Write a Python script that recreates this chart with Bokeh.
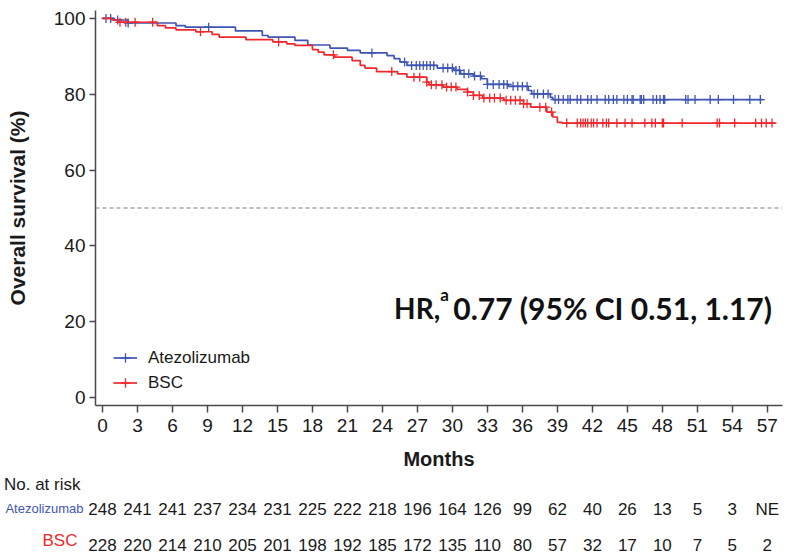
import numpy as np
from bokeh.plotting import figure
from bokeh.layouts import column
from bokeh.models import (FixedTicker, Span, Label, Legend, LegendItem, Range1d)
from bokeh.embed import file_html
from bokeh.resources import INLINE

# Kaplan-Meier step points: month at which each survival level (%) begins
atezo_time = [0, 1.0, 2.2, 6.3, 7.1, 11.4, 13.7, 14.2, 16.5, 17.6, 19.5, 21.0, 22.1,
              24.4, 25.0, 25.5, 26.1, 28.7, 30.1, 30.7, 31.8, 32.5, 33.0, 34.8, 36.5,
              36.8, 38.4, 38.6]
atezo_surv = [100, 99.6, 98.8, 98.1, 97.7, 96.7, 95.5, 95.1, 94.2, 93.0, 92.2, 91.6, 90.9,
              90.2, 89.4, 88.5, 87.6, 86.9, 86.3, 85.4, 84.8, 84.1, 82.6, 82.1, 81.0,
              80.1, 79.2, 78.6]
atezo_last = 56.6
atezo_censor = [0.3, 0.7, 1.3, 2.2, 9.1, 23.1, 25.9, 26.5, 26.9, 27.2, 27.5, 27.8, 28.1,
                28.4, 29.2, 29.6, 30.0, 30.3, 30.6, 31.0, 31.4, 31.9, 32.4, 33.0, 33.5,
                34.0, 34.4, 34.7, 35.2, 35.6, 36.0, 36.4, 37.0, 37.3, 37.8, 38.2, 38.8,
                39.1, 39.5, 39.9, 40.1, 40.7, 41.0, 41.6, 41.9, 42.4, 43.1, 43.4, 43.8,
                44.1, 44.7, 45.0, 45.4, 45.5, 46.1, 46.2, 46.4, 47.2, 47.5, 47.8, 48.1,
                48.2, 50.0, 50.2, 50.8, 52.1, 52.8, 54.1, 55.5, 56.4]

bsc_time = [0, 0.8, 1.4, 4.7, 5.4, 6.3, 8.0, 9.4, 10.0, 12.3, 14.6, 15.8, 16.5, 18.0,
            18.5, 19.0, 19.9, 21.4, 22.1, 22.5, 23.5, 25.3, 26.1, 27.8, 28.0, 29.2,
            30.4, 31.3, 31.8, 32.6, 34.4, 36.1, 36.7, 38.1, 38.6, 39.0, 39.4]
bsc_surv = [100, 99.6, 99.0, 98.1, 97.5, 97.0, 96.5, 95.8, 95.1, 94.4, 93.8, 93.3, 92.9,
            91.8, 91.1, 90.4, 89.8, 88.9, 87.6, 86.9, 86.0, 85.4, 84.5, 83.2, 82.5, 81.9,
            81.3, 80.6, 79.7, 79.0, 78.4, 77.5, 76.6, 75.3, 74.0, 72.6, 72.4]
bsc_last = 57.7
bsc_censor = [1.5, 2.0, 2.8, 4.3, 8.4, 15.1, 19.8, 24.8, 26.7, 27.2, 27.8, 28.2, 28.6,
              29.1, 29.5, 29.9, 30.3, 31.3, 31.8, 32.3, 32.7, 33.2, 33.6, 34.1, 34.6,
              35.0, 35.4, 35.8, 36.1, 36.4, 37.5, 38.0, 38.5, 39.8, 40.7, 41.0, 41.2,
              41.4, 41.6, 41.9, 42.1, 42.4, 42.9, 43.2, 43.4, 44.1, 44.8, 45.4, 46.5,
              47.1, 47.4, 48.0, 48.1, 49.7, 52.7, 52.9, 54.2, 56.0, 56.5, 56.9, 57.4]

# Number at risk table
risk_months = list(range(0, 58, 3))
risk_atezo = ["248", "241", "241", "237", "234", "231", "225", "222", "218", "196",
              "164", "126", "99", "62", "40", "26", "13", "5", "3", "NE"]
risk_bsc = ["228", "220", "214", "210", "205", "201", "198", "192", "185", "172",
            "135", "110", "80", "57", "32", "17", "10", "7", "5", "2"]

BLUE = "#3f55b3"
RED = "#f0282d"
AXIS = "#4a4a4a"
TXT = "#1a1a1a"
FONT = "Liberation Sans"
LEFT, RIGHT = 95, 9

MAIN_H = 474
p = figure(width=791, height=MAIN_H, output_backend="svg", toolbar_location=None,
           x_range=Range1d(-0.6, 58.3), y_range=Range1d(-2.1, 102.1),
           min_border_left=LEFT, min_border_right=RIGHT, min_border_top=10,
           min_border_bottom=MAIN_H - 405)
p.outline_line_color = None
p.grid.visible = False

for ax in (p.xaxis[0], p.yaxis[0]):
    ax.axis_line_color = AXIS
    ax.axis_line_width = 1.5
    ax.major_tick_line_color = AXIS
    ax.major_tick_line_width = 1.5
    ax.major_tick_in = 0
    ax.minor_tick_line_color = None
    ax.major_label_text_font = FONT
    ax.major_label_text_color = TXT
    ax.major_label_text_font_size = "19px"
    ax.axis_label_text_font = FONT
    ax.axis_label_text_font_style = "bold"
    ax.axis_label_text_color = TXT

p.yaxis.ticker = FixedTicker(ticks=[0, 20, 40, 60, 80, 100])
p.yaxis.major_tick_out = 6
p.yaxis.major_label_standoff = 4
p.yaxis.axis_label = "Overall survival (%)"
p.yaxis.axis_label_text_font_size = "21px"
p.yaxis.axis_label_standoff = 22

p.xaxis.ticker = FixedTicker(ticks=risk_months)
p.xaxis.major_tick_out = 7
p.xaxis.major_label_standoff = 6
p.xaxis.axis_label = "Months"
p.xaxis.axis_label_text_font_size = "20px"
p.xaxis.axis_label_standoff = 13

p.add_layout(Span(location=50, dimension="width", line_color="#a8a8a8",
                  line_dash="4 3", line_width=1.3))


def censor_values(times, surv, cens):
    idx = np.searchsorted(np.array(times), np.array(cens), side="right") - 1
    return [surv[i] for i in idx]


items = []
for name, times, surv, last, cens, col in (
        ("Atezolizumab", atezo_time, atezo_surv, atezo_last, atezo_censor, BLUE),
        ("BSC", bsc_time, bsc_surv, bsc_last, bsc_censor, RED)):
    xs = list(times) + [last]
    ys = list(surv) + [surv[-1]]
    line = p.step(xs, ys, mode="after", line_color=col, line_width=1.7)
    marks = p.scatter(cens, censor_values(times, surv, cens), marker="cross",
                      size=9, line_color=col, line_width=1.3)
    items.append(LegendItem(label=name, renderers=[line, marks]))

legend = Legend(items=items, location=(18, 10), padding=0, spacing=0, margin=0,
                label_height=25, glyph_height=25, glyph_width=24, label_standoff=11,
                label_text_font=FONT, label_text_font_size="17px",
                label_text_color=TXT, border_line_color=None,
                background_fill_alpha=0)
p.add_layout(legend)

# Hazard ratio annotation
HR_FONT = "Lato"
p.add_layout(Label(x=25.0, y=23.7, text="HR,", text_font=HR_FONT,
                   text_font_style="bold", text_font_size="28px", text_color="#111111",
                   text_baseline="alphabetic"))
p.add_layout(Label(x=28.95, y=27.2, text="a", text_font=HR_FONT,
                   text_font_style="bold", text_font_size="17px", text_color="#111111",
                   text_baseline="alphabetic"))
p.add_layout(Label(x=57.4, y=23.7, text="0.77 (95% CI 0.51, 1.17)", text_font=HR_FONT,
                   text_font_style="bold", text_font_size="30px", text_color="#111111",
                   text_align="right", text_baseline="alphabetic"))


# Number-at-risk rows: thin strips sharing the month axis of the main plot.
# The row title is the strip's y tick label; the counts are the strip's month-axis
# labels, pulled onto the same line as the title.
def risk_row(height, center, title, color, size, standoff, counts=None):
    opts = dict(width=791, height=height, output_backend="svg", toolbar_location=None,
                x_range=p.x_range, min_border_left=LEFT, min_border_right=RIGHT)
    if counts is None:
        r = figure(y_range=Range1d(height, 0), x_axis_type=None,
                   min_border_top=0, min_border_bottom=0, **opts)
        tick = center
    else:
        r = figure(y_range=Range1d(1, 0), x_axis_location="above",
                   min_border_top=center - 1, min_border_bottom=height - center - 1,
                   **opts)
        tick = 0.5
        xa = r.xaxis[0]
        xa.ticker = FixedTicker(ticks=risk_months)
        xa.major_label_overrides = dict(zip(risk_months, counts))
        xa.axis_line_color = None
        xa.major_tick_line_color = None
        xa.minor_tick_line_color = None
        xa.major_tick_out = 0
        xa.major_tick_in = 0
        xa.major_label_standoff = -11
        xa.major_label_text_font = FONT
        xa.major_label_text_font_size = "17px"
        xa.major_label_text_color = TXT
    r.outline_line_color = None
    r.grid.visible = False
    ya = r.yaxis[0]
    ya.ticker = FixedTicker(ticks=[tick])
    ya.major_label_overrides = {tick: title}
    ya.axis_line_color = None
    ya.major_tick_line_color = None
    ya.minor_tick_line_color = None
    ya.major_tick_out = 0
    ya.major_tick_in = 0
    ya.major_label_standoff = standoff
    ya.major_label_text_font = FONT
    ya.major_label_text_font_size = size
    ya.major_label_text_color = color
    return r


row_head = risk_row(21, 10, "No. at risk", TXT, "17px", 15)
row_atezo = risk_row(29, 13, "Atezolizumab", BLUE, "13px", 12, risk_atezo)
row_bsc = risk_row(29, 16, "BSC", RED, "17px", 18, risk_bsc)

layout = column(p, row_head, row_atezo, row_bsc, spacing=0)
open("out.html", "w").write(file_html(layout, INLINE))
